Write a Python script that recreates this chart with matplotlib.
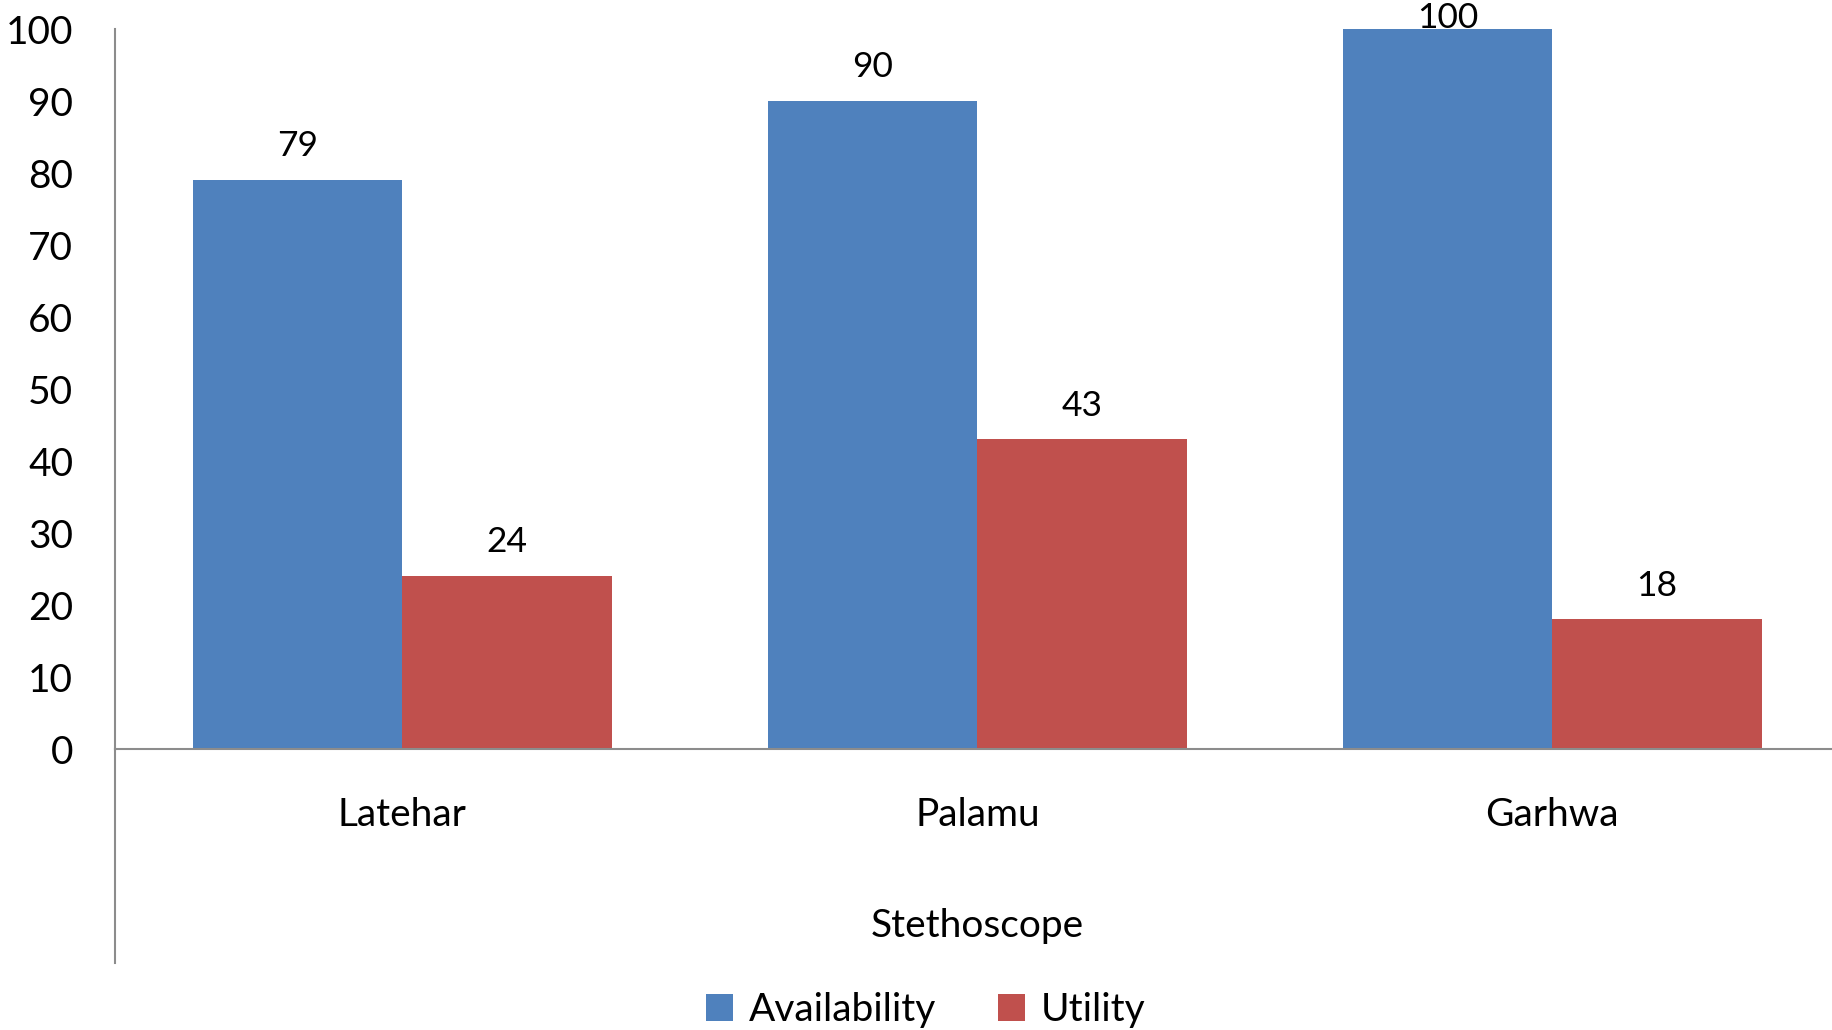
import matplotlib.pyplot as plt
import numpy as np
from matplotlib.lines import Line2D

categories = ['Latehar', 'Palamu', 'Garhwa']
availability = [79, 90, 100]
utility = [24, 43, 18]
series_names = ['Availability', 'Utility']
group_title = 'Stethoscope'
y_ticks = [0, 10, 20, 30, 40, 50, 60, 70, 80, 90, 100]

plt.rcParams['font.family'] = ['Lato', 'DejaVu Sans']

fig = plt.figure(figsize=(18.33, 10.30), dpi=100)
ax = fig.add_axes([0.0627, 0.2728, 0.941, 0.699])

x = np.arange(len(categories))
w = 0.364
blue = '#4F81BD'
red = '#C0504D'
b1 = ax.bar(x - w / 2, availability, w, color=blue, label=series_names[0])
b2 = ax.bar(x + w / 2, utility, w, color=red, label=series_names[1])

# data labels (Excel keeps the top one inside the chart)
for bars, vals in ((b1, availability), (b2, utility)):
    for rect, v in zip(bars, vals):
        ax.text(rect.get_x() + rect.get_width() / 2, min(v + 4.7, 101.6), str(v),
                ha='center', va='center', fontsize=25.5, clip_on=False)

ax.set_xlim(-0.5, len(categories) - 0.5)
ax.set_ylim(0, 100)
ax.set_yticks(y_ticks)
ax.set_xticks([])
ax.tick_params(axis='y', length=0, pad=30, labelsize=28)

for s in ('top', 'right'):
    ax.spines[s].set_visible(False)
ax.spines['left'].set_color('#8c8c8c')
ax.spines['bottom'].set_color('#8c8c8c')
ax.spines['left'].set_linewidth(1.5)
ax.spines['bottom'].set_linewidth(1.5)

# extend the value axis down past the category labels
fig.add_artist(Line2D([0.0627, 0.0627], [0.065, 0.2728], color='#8c8c8c', lw=1.5))

for xi, c in zip(x, categories):
    ax.text(xi, -0.092, c, transform=ax.get_xaxis_transform(), ha='center',
            va='center', fontsize=28)
ax.text(0.5, -0.246, group_title, transform=ax.transAxes, ha='center',
        va='center', fontsize=28)

fig.legend(handles=[b1, b2], loc='center', bbox_to_anchor=(0.505, 0.019), ncol=2,
           frameon=False, fontsize=28, handlelength=0.7, handleheight=0.7,
           handletextpad=0.4, columnspacing=1.6)

fig.savefig('out.png', dpi=100)
